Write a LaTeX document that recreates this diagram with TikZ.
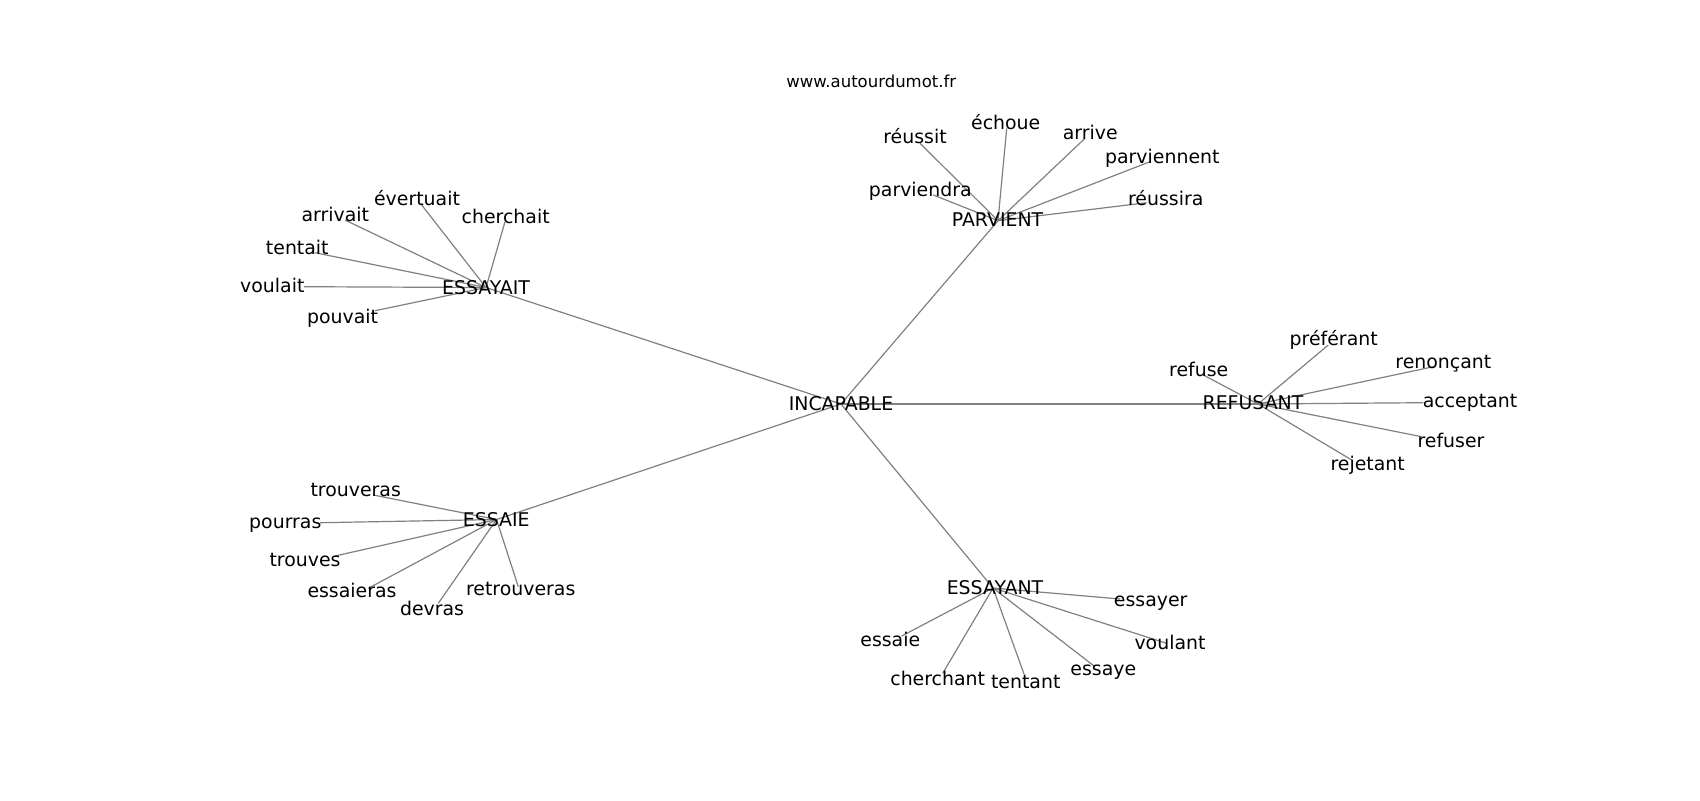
\documentclass[tikz,border=0pt]{standalone}
\usepackage{fontspec}
\setmainfont{DejaVu Sans}
\begin{document}
\begin{tikzpicture}[x=0.5pt,y=-0.5pt,
  edge/.style={draw=black!50, line width=0.6pt},
  lbl/.style={inner sep=0pt, anchor=base, font=\fontsize{9.45}{11}\selectfont, text=black},
  ttl/.style={inner sep=0pt, anchor=base, font=\fontsize{8.25}{10}\selectfont, text=black}]
\useasboundingbox (0,0) rectangle (1700,800);
\newcommand\mkleaf[7]{%
  \coordinate (#1) at (#5,#6);
  \draw[edge] (#7) -- (#1);
  \node[lbl] (#1-t) at (#3,#4) {#2};}
% hubs
\coordinate (INC) at (841,404);
\coordinate (ESYT) at (486,287.5);
\coordinate (PARV) at (998,220.7);
\coordinate (REFU) at (1258,404);
\coordinate (ESSA) at (496.5,519.5);
\coordinate (ESYN) at (993,588);
\draw[edge] (INC) -- (ESYT);
\draw[edge] (INC) -- (PARV);
\draw[edge] (INC) -- (REFU);
\draw[edge] (INC) -- (ESSA);
\draw[edge] (INC) -- (ESYN);
% ESSAYAIT group
\mkleaf{evertuait}{évertuait}{417}{205}{421.7}{205}{ESYT}
\mkleaf{arrivait}{arrivait}{335.3}{221}{345}{220}{ESYT}
\mkleaf{cherchait}{cherchait}{505.7}{223.3}{505}{221.7}{ESYT}
\mkleaf{tentait}{tentait}{297.3}{254.3}{315}{252.7}{ESYT}
\mkleaf{voulait}{voulait}{272.3}{292.3}{304}{286.7}{ESYT}
\mkleaf{pouvait}{pouvait}{342.5}{323.3}{375}{310.7}{ESYT}
% PARVIENT group
\mkleaf{reussit}{réussit}{915}{143.3}{920}{143.3}{PARV}
\mkleaf{echoue}{échoue}{1005.7}{129.3}{1006.7}{128.3}{PARV}
\mkleaf{arrive}{arrive}{1090.3}{139.3}{1085}{138.3}{PARV}
\mkleaf{parviennent}{parviennent}{1162.3}{163.3}{1150}{161.7}{PARV}
\mkleaf{parviendra}{parviendra}{920.3}{196}{933.3}{195}{PARV}
\mkleaf{reussira}{réussira}{1165.7}{205}{1146.7}{202.7}{PARV}
% REFUSANT group
\mkleaf{preferant}{préférant}{1333.7}{345}{1328.3}{345}{REFU}
\mkleaf{refuse}{refuse}{1198.7}{376}{1203.3}{375}{REFU}
\mkleaf{renoncant}{renonçant}{1443.3}{368.3}{1433.3}{366.7}{REFU}
\mkleaf{acceptant}{acceptant}{1470}{407.3}{1423.3}{402.7}{REFU}
\mkleaf{refuser}{refuser}{1451}{447.3}{1421.7}{436.7}{REFU}
\mkleaf{rejetant}{rejetant}{1367.7}{470}{1351.7}{460}{REFU}
% ESSAIE group
\mkleaf{trouveras}{trouveras}{355.7}{496.7}{373.3}{495}{ESSA}
\mkleaf{pourras}{pourras}{285.3}{528.3}{320}{522.7}{ESSA}
\mkleaf{trouves}{trouves}{305}{566.7}{335}{556}{ESSA}
\mkleaf{essaieras}{essaieras}{352}{597.3}{368.3}{588.3}{ESSA}
\mkleaf{devras}{devras}{432}{615}{438.3}{603.3}{ESSA}
\mkleaf{retrouveras}{retrouveras}{520.7}{595.7}{518.3}{586.7}{ESSA}
% ESSAYANT group
\mkleaf{essayer}{essayer}{1150.7}{606.7}{1120}{599}{ESYN}
\mkleaf{voulant}{voulant}{1170}{649.3}{1166.7}{643.3}{ESYN}
\mkleaf{essaie}{essaie}{890.3}{646}{901.7}{636}{ESYN}
\mkleaf{cherchant}{cherchant}{937.7}{685}{942.7}{673.3}{ESYN}
\mkleaf{tentant}{tentant}{1025.7}{688.3}{1024}{674}{ESYN}
\mkleaf{essaye}{essaye}{1103.3}{675}{1095}{666.7}{ESYN}
% hub labels
\node[lbl] (INC-t) at (841,410) {INCAPABLE};
\node[lbl] (ESYT-t) at (486,294) {ESSAYAIT};
\node[lbl] (PARV-t) at (997.5,226.7) {PARVIENT};
\node[lbl] (REFU-t) at (1253,409.5) {REFUSANT};
\node[lbl] (ESSA-t) at (496.3,526.7) {ESSAIE};
\node[lbl] (ESYN-t) at (995,594) {ESSAYANT};
% title
\node[ttl] (title) at (871.3,87.3) {www.autourdumot.fr};
\end{tikzpicture}
\end{document}
